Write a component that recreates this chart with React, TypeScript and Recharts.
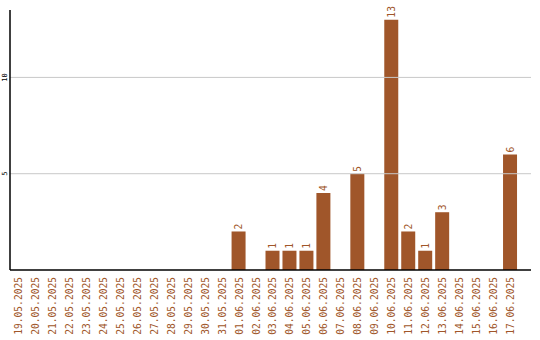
import { BarChart, Bar, XAxis, YAxis, ReferenceLine, LabelList } from "recharts";

// ── DATA ─────────────────────────────────────────────────────
const DAYS = [
    "19.05.2025", "20.05.2025", "21.05.2025", "22.05.2025", "23.05.2025",
    "24.05.2025", "25.05.2025", "26.05.2025", "27.05.2025", "28.05.2025",
    "29.05.2025", "30.05.2025", "31.05.2025", "01.06.2025", "02.06.2025",
    "03.06.2025", "04.06.2025", "05.06.2025", "06.06.2025", "07.06.2025",
    "08.06.2025", "09.06.2025", "10.06.2025", "11.06.2025", "12.06.2025",
    "13.06.2025", "14.06.2025", "15.06.2025", "16.06.2025", "17.06.2025",
];
const COUNTS = [
    0, 0, 0, 0, 0, 0, 0, 0, 0, 0, 0, 0, 0, 2, 0,
    1, 1, 1, 4, 0, 5, 0, 13, 2, 1, 3, 0, 0, 0, 6,
];
const Y_TICKS = [5, 10];

const BROWN = "#a0562a";
const MONO = "'DejaVu Sans Mono', monospace";

const data = DAYS.map((d, i) => ({ day: d, count: COUNTS[i] }));

// ── TICKS ────────────────────────────────────────────────────
// rotated date, reading bottom-to-top, top end just under the axis
const DayTick = ({ x, payload }: any) => (
    <text
        transform={`translate(${x + 3.5},${277}) rotate(-90)`}
        textAnchor="end"
        fontSize={9.6}
        fontFamily={MONO}
        fill={BROWN}
    >
        {payload.value}
    </text>
);

const CountTick = ({ y, payload }: any) => (
    <text
        transform={`translate(${7},${y}) rotate(-90)`}
        textAnchor="middle"
        fontSize={7}
        fontFamily={MONO}
        fill="#000"
    >
        {payload.value}
    </text>
);

const ValueLabel = ({ x, y, width, value }: any) => {
    if (!value) return null;
    return (
        <text
            transform={`translate(${x + width / 2 + 3.5},${y - 2}) rotate(-90)`}
            textAnchor="start"
            fontSize={9.6}
            fontFamily={MONO}
            fill={BROWN}
        >
            {value}
        </text>
    );
};

export default function App() {
    return (
        <div style={{ position: "absolute", left: 0, top: 0, background: "#fff" }}>
            <BarChart
                width={540}
                height={340}
                data={data}
                margin={{ top: 10, right: 9, left: 0, bottom: 0 }}
                barSize={14}
            >
                {Y_TICKS.map(t => (
                    <ReferenceLine key={t} y={t} stroke="#c8c8c8" />
                ))}
                <XAxis
                    dataKey="day"
                    interval={0}
                    height={70}
                    padding={{ left: 0, right: 12 }}
                    tick={<DayTick />}
                    tickLine={false}
                    axisLine={{ stroke: "#000", strokeWidth: 1.5 }}
                />
                <YAxis
                    width={10}
                    domain={[0, 13.5]}
                    ticks={Y_TICKS}
                    tick={<CountTick />}
                    tickLine={false}
                    axisLine={{ stroke: "#000", strokeWidth: 1.5 }}
                />
                <Bar dataKey="count" fill={BROWN} isAnimationActive={false}>
                    <LabelList dataKey="count" content={<ValueLabel />} />
                </Bar>
            </BarChart>
        </div>
    );
}
